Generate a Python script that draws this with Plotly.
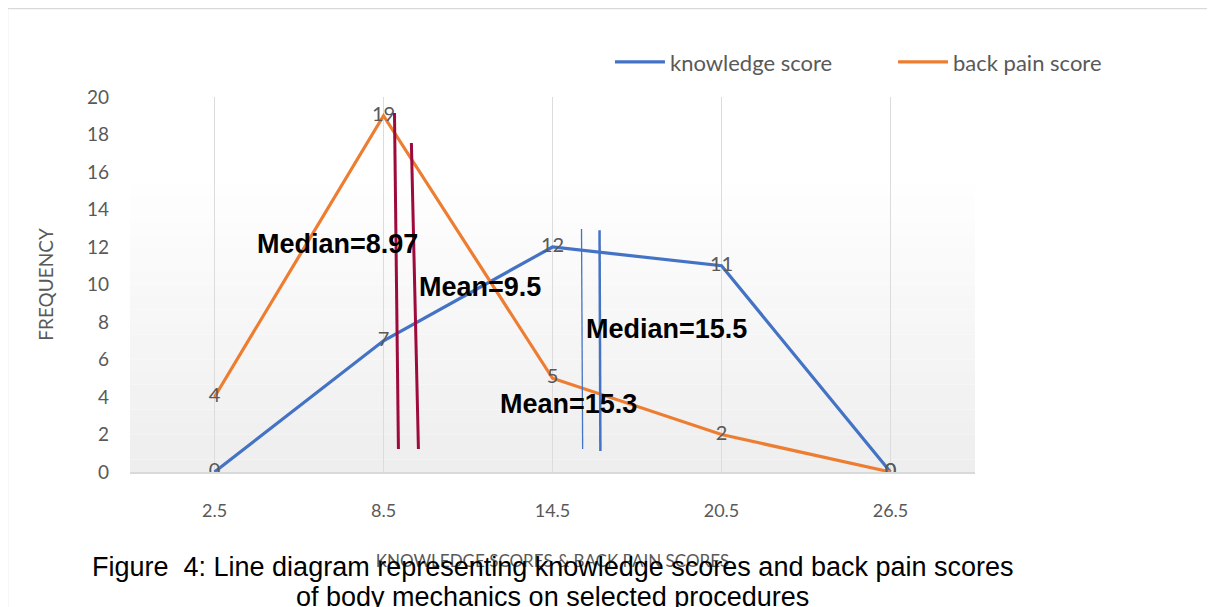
import plotly.graph_objects as go

# ---- data ----
score_bins = [2.5, 8.5, 14.5, 20.5, 26.5]
tick_labels = ["2.5", "8.5", "14.5", "20.5", "26.5"]
knowledge = [0, 7, 12, 11, 0]
back_pain = [4, 19, 5, 2, 0]

# summary statistic markers (label, x top, x bottom, y top, y bottom)
stat_labels = ["Median=8.97", "Mean=9.5", "Median=15.5", "Mean=15.3"]
stat_label_x = [6.87, 11.91, 18.55, 15.07]
stat_label_y = [12.16, 9.87, 7.63, 3.63]
line_x_top = [8.89, 9.49, 15.53, 16.17]
line_x_bot = [9.03, 9.74, 15.57, 16.20]
line_y_top = [19.15, 17.55, 12.96, 12.90]
line_y_bot = [1.23, 1.23, 1.23, 1.12]
line_colors = ["#9E0A3C", "#9E0A3C", "#4472C4", "#4472C4"]
line_widths = [3, 3, 1.3, 2.5]

caption_lines = [
    "Figure  4: Line diagram representing knowledge scores and back pain scores",
    "of body mechanics on selected procedures",
]

BLUE = "#4472C4"
ORANGE = "#ED7D31"
GRAY = "#595959"

fig = go.Figure()

fig.add_trace(go.Scatter(
    x=score_bins, y=knowledge, name="knowledge score",
    mode="lines+text", text=[str(v) for v in knowledge],
    textposition="middle center",
    textfont=dict(family="Lato", size=20, color=GRAY),
    line=dict(color=BLUE, width=3.2), legend="legend",
))
fig.add_trace(go.Scatter(
    x=score_bins, y=back_pain, name="back pain score",
    mode="lines+text", text=[str(v) for v in back_pain],
    textposition="middle center",
    textfont=dict(family="Lato", size=20, color=GRAY),
    line=dict(color=ORANGE, width=3.2), legend="legend2",
))

shapes = []
# gradient background of plot area
n = 30
for i in range(n):
    frac = i / n
    y0 = 20 * frac
    y1 = 20 * (i + 1) / n
    t = min(1.0, frac / 0.78)
    c = int(round(0xEE + (0xFF - 0xEE) * t))
    shapes.append(dict(type="rect", xref="paper", yref="y", x0=0, x1=1,
                       y0=y0, y1=y1, fillcolor=f"rgb({c},{c},{c})",
                       line=dict(width=0), layer="below"))
# stat lines
for xt, xb, yt, yb, col, w in zip(line_x_top, line_x_bot, line_y_top, line_y_bot,
                                  line_colors, line_widths):
    shapes.append(dict(type="line", xref="x", yref="y", x0=xt, y0=yt, x1=xb, y1=yb,
                       line=dict(color=col, width=w)))
# outer frame (top and left)
shapes.append(dict(type="line", xref="paper", yref="paper",
                   x0=-0.1456, x1=1.2805, y0=1.2373, y1=1.2373,
                   line=dict(color="#D9D9D9", width=2.5)))
shapes.append(dict(type="line", xref="paper", yref="paper",
                   x0=-0.1456, x1=-0.1456, y0=1.2373, y1=-0.5,
                   line=dict(color="#D9D9D9", width=2.5)))

annotations = []
for lab, ax_, ay_ in zip(stat_labels, stat_label_x, stat_label_y):
    annotations.append(dict(x=ax_, y=ay_, xref="x", yref="y", text=f"<b>{lab}</b>",
                            showarrow=False,
                            font=dict(family="Liberation Sans", size=27, color="black")))
for line_text, cy in zip(caption_lines, [-0.2533, -0.3333]):
    annotations.append(dict(
        x=0.5, y=cy, xref="paper", yref="paper", yanchor="middle",
        text=line_text, showarrow=False, align="center",
        font=dict(family="Liberation Sans", size=27, color="black")))

fig.update_layout(
    width=1207, height=599,
    margin=dict(l=122, r=240, t=89, b=135),
    paper_bgcolor="white", plot_bgcolor="rgba(0,0,0,0)",
    shapes=shapes, annotations=annotations,
    showlegend=True,
    legend=dict(orientation="h", x=0.568, y=1.093, xanchor="left", yanchor="middle",
                font=dict(family="Lato", size=22, color=GRAY),
                bgcolor="rgba(0,0,0,0)", itemwidth=50),
    legend2=dict(orientation="h", x=0.903, y=1.093, xanchor="left", yanchor="middle",
                 font=dict(family="Lato", size=22, color=GRAY),
                 bgcolor="rgba(0,0,0,0)", itemwidth=50),
    xaxis=dict(range=[-0.5, 29.5], tickmode="array", tickvals=score_bins,
               ticktext=tick_labels, showgrid=True, gridcolor="#DCDCDC", gridwidth=1,
               zeroline=False, showline=True, linecolor="#D9D9D9", linewidth=1.5,
               ticks="", tickfont=dict(family="Lato", size=18, color=GRAY),
               ticklabelstandoff=22,
               title=dict(text="KNOWLEDGE SCORES & BACK PAIN SCORES",
                          font=dict(family="Lato", size=17, color=GRAY), standoff=35)),
    yaxis=dict(range=[0, 20], dtick=2, showgrid=False, zeroline=False,
               ticks="", tickfont=dict(family="Lato", size=19, color=GRAY),
               ticklabelstandoff=20,
               title=dict(text="FREQUENCY",
                          font=dict(family="Lato", size=19, color=GRAY), standoff=28)),
)

fig.write_html("out.html")
